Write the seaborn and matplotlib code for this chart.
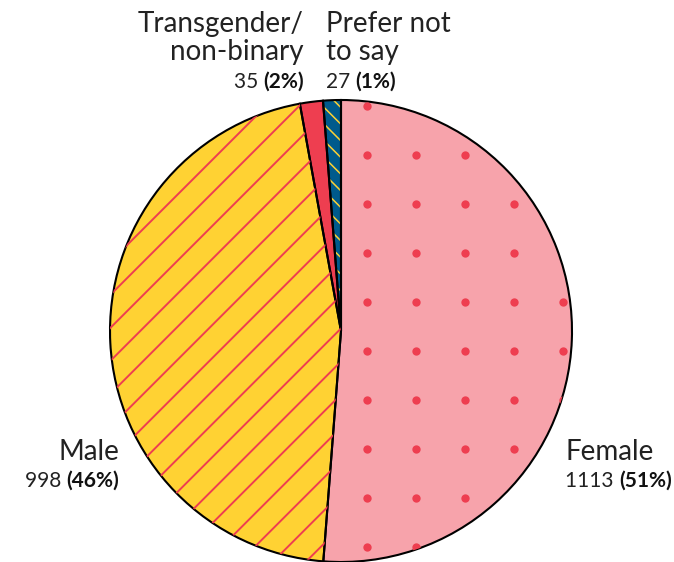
import numpy as np
import matplotlib
matplotlib.use("Agg")
import matplotlib.pyplot as plt
from matplotlib.collections import LineCollection
import seaborn as sns

sns.set_theme(style="white")
plt.rcParams['font.family'] = ['Lato', 'DejaVu Sans']
plt.rcParams['hatch.linewidth'] = 1.1

# data
categorias = ['Female', 'Male', 'Transgender/\nnon-binary', 'Prefer not\nto say']
valores = [1113, 998, 35, 27]
percentuais = ['51%', '46%', '2%', '1%']

cores = ['#F7A3AB', '#FFD233', '#EE3E50', '#005A8C']
vermelho = '#EE3E50'
amarelo = '#FFD233'

W, H = 674, 562
fig = plt.figure(figsize=(W / 100, H / 100), dpi=100)
ax = fig.add_axes([0, 0, 1, 1])

# fills
wedges, _ = ax.pie(valores, colors=cores, startangle=90, counterclock=False,
                   wedgeprops=dict(linewidth=0, edgecolor='none'))

# Female: red dots
gx = np.arange(0.113, 1.05, 0.212)
gy = np.arange(0.126 - 0.212 * 6, 1.05, 0.212)
xx, yy = np.meshgrid(gx, gy)
pts = ax.scatter(xx.ravel(), yy.ravel(), s=36, color=vermelho, linewidths=0, zorder=3)
pts.set_clip_path(wedges[0])

# Male: red diagonal lines
cs = 1.155 + 0.143 * np.arange(-20, 6)
segs = [[(-1.2, -1.2 + c), (1.2, 1.2 + c)] for c in cs]
lc = LineCollection(segs, colors=vermelho, linewidths=1.4, zorder=3)
ax.add_collection(lc)
lc.set_clip_path(wedges[1])

# Prefer not to say: yellow hatch
hw, _ = ax.pie(valores, startangle=90, counterclock=False,
               wedgeprops=dict(fill=False, linewidth=0))
for i, w in enumerate(hw):
    if i == 3:
        w.set_edgecolor(amarelo)
        w.set_hatch('\\\\')
    else:
        w.set_visible(False)

# black outlines
ax.pie(valores, startangle=90, counterclock=False,
       wedgeprops=dict(fill=False, linewidth=1.5, edgecolor='black'))

cx, cy, r = 341, 331, 231
ax.set_xlim(-cx / r, (W - cx) / r)
ax.set_ylim(-(H - cy) / r, cy / r)
ax.axis('off')

fig.canvas.draw()
renderer = fig.canvas.get_renderer()


def fx(px):
    return px / W


def fy(py):
    return 1 - py / H


def rotulo(nome, n, pct, x, y_nome, y_num, ha):
    linhas = nome.split('\n')
    for k, linha in enumerate(linhas):
        fig.text(fx(x), fy(y_nome + 28 * k), linha, ha=ha, va='baseline',
                 fontsize=20, color='#222222')
    t1 = fig.text(0, 0, f'{n} ', fontsize=15, color='#222222', va='baseline')
    t2 = fig.text(0, 0, f'({pct})', fontsize=15, fontweight='bold',
                  color='#111111', va='baseline')
    w1 = t1.get_window_extent(renderer).width
    w2 = t2.get_window_extent(renderer).width
    x0 = x - (w1 + w2) if ha == 'right' else x
    t1.set_position((fx(x0), fy(y_num)))
    t2.set_position((fx(x0 + w1), fy(y_num)))


rotulo(categorias[0], valores[0], percentuais[0], 565, 460, 487, 'left')
rotulo(categorias[1], valores[1], percentuais[1], 119, 460, 487, 'right')
rotulo(categorias[2], valores[2], percentuais[2], 304, 32, 88, 'right')
rotulo(categorias[3], valores[3], percentuais[3], 326, 32, 88, 'left')

fig.savefig('out.png', dpi=100)
